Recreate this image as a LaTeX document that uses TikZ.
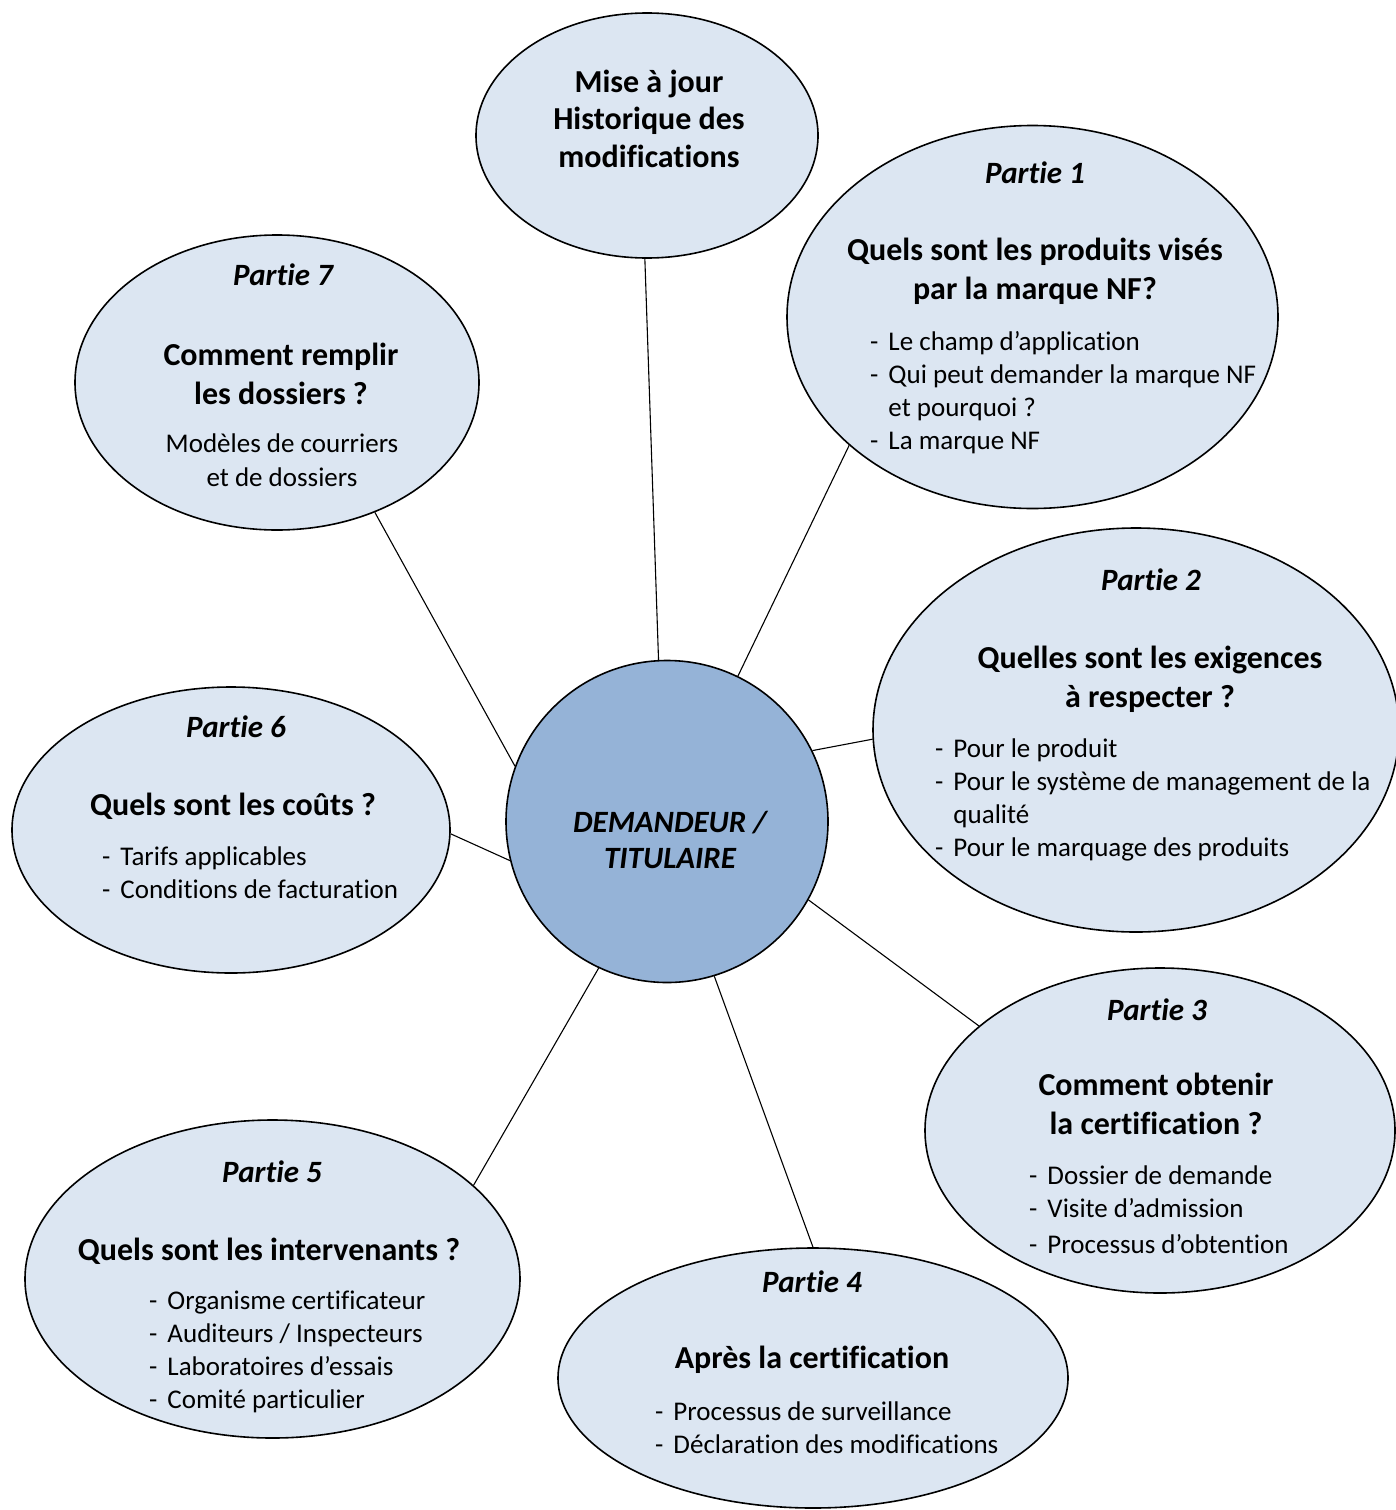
\documentclass[tikz,border=0pt]{standalone}
\usepackage{fontspec}
\setmainfont{Carlito}[Ligatures=NoCommon]
\usepackage{xcolor}
\usepackage{tikz}
\usetikzlibrary{shapes.geometric, positioning}

\definecolor{bleuclair}{RGB}{220,230,242}
\definecolor{bleucentre}{RGB}{149,179,215}

\newcommand{\bloc}[1]{\begin{tabular}[t]{@{}c@{}}#1\end{tabular}}
\newcommand{\liste}[1]{\begin{tabular}[t]{@{}l@{\hspace{10pt}}l@{}}#1\end{tabular}}

\begin{document}
\begin{tikzpicture}[x=1pt, y=-1pt,
    bulle/.style={ellipse, draw, line width=1.6pt, fill=bleuclair, inner sep=0pt},
    partie/.style={anchor=base, inner sep=0pt, font=\fontsize{31}{38}\selectfont\bfseries\itshape},
    question/.style={anchor=base, inner sep=0pt, font=\fontsize{32}{39.5}\selectfont\bfseries},
    texte/.style={anchor=base, inner sep=0pt, font=\fontsize{27}{34}\selectfont},
    liste/.style={anchor=base west, inner sep=0pt, font=\fontsize{27}{33}\selectfont},
    lien/.style={line width=1.1pt}
]
\useasboundingbox (0,0) rectangle (1396,1510);

% Bulles
\node[bulle, minimum width=342pt, minimum height=245pt] (maj) at (647,135.5) {};
\node[bulle, minimum width=491pt, minimum height=383pt] (p1) at (1032.5,317) {};
\node[bulle, minimum width=404pt, minimum height=295pt] (p7) at (277,382.5) {};
\node[bulle, minimum width=526pt, minimum height=404pt] (p2) at (1136,730) {};
\node[bulle, minimum width=438pt, minimum height=286pt] (p6) at (231,830) {};
\node[bulle, minimum width=470pt, minimum height=325pt] (p3) at (1160,1130.5) {};
\node[bulle, minimum width=510pt, minimum height=260pt] (p4) at (813,1378) {};
\node[bulle, minimum width=495pt, minimum height=318pt] (p5) at (272.5,1279) {};
\node[circle, draw, line width=1.6pt, fill=bleucentre, inner sep=0pt, minimum size=322pt] (centre) at (667,821.5) {};

% Liens
\draw[lien] (maj.269) -- (centre.93);
\draw[lien] (p1.215) -- (centre.64);
\draw[lien] (p7.307) -- (centre.160);
\draw[lien] (p2.182) -- (centre.26);
\draw[lien] (p6.359) -- (centre.194);
\draw[lien] (p3.150) -- (centre.331);
\draw[lien] (p4.90) -- (centre.287);
\draw[lien] (p5.25) -- (centre.245);

% Textes
\node[partie] (centretxt) at (670,832) {\bloc{DEMANDEUR /\\[-2pt]TITULAIRE}};

\node[question] (majtxt) at (649,92) {\bloc{Mise à jour\\[-2pt]Historique des\\[-2pt]modifications}};

\node[partie] (p1titre) at (1035,183) {Partie 1};
\node[question] (p1q) at (1035,260) {\bloc{Quels sont les produits visés\\par la marque NF?}};
\node[liste] (p1l) at (870,350) {\liste{-&Le champ d’application\\-&Qui peut demander la marque NF\\&et pourquoi ?\\-&La marque NF}};

\node[partie] (p2titre) at (1151,590) {Partie 2};
\node[question] (p2q) at (1150,668) {\bloc{Quelles sont les exigences\\à respecter ?}};
\node[liste] (p2l) at (935,757) {\liste{-&Pour le produit\\-&Pour le système de management de la\\&qualité\\-&Pour le marquage des produits}};

\node[partie] (p3titre) at (1157,1020) {Partie 3};
\node[question] (p3q) at (1156,1095) {\bloc{Comment obtenir\\la certification ?}};
\node[liste] (p3l) at (1029,1184) {\liste{-&Dossier de demande\\-&Visite d’admission\\[3pt]-&Processus d’obtention}};

\node[partie] (p4titre) at (812,1292) {Partie 4};
\node[question] (p4q) at (812,1368) {Après la certification};
\node[liste] (p4l) at (655,1420) {\liste{-&Processus de surveillance\\-&Déclaration des modifications}};

\node[partie] (p5titre) at (272,1182) {Partie 5};
\node[question] (p5q) at (269,1260) {Quels sont les intervenants ?};
\node[liste] (p5l) at (149,1309) {\liste{-&Organisme certificateur\\-&Auditeurs / Inspecteurs\\-&Laboratoires d’essais\\-&Comité particulier}};

\node[partie] (p6titre) at (236,737) {Partie 6};
\node[question] (p6q) at (233,815) {Quels sont les coûts ?};
\node[liste] (p6l) at (102,865) {\liste{-&Tarifs applicables\\-&Conditions de facturation}};

\node[partie] (p7titre) at (283,285) {Partie 7};
\node[question] (p7q) at (281,365) {\bloc{Comment remplir\\les dossiers ?}};
\node[texte] (p7t) at (282,452) {\bloc{Modèles de courriers\\et de dossiers}};

\end{tikzpicture}
\end{document}
